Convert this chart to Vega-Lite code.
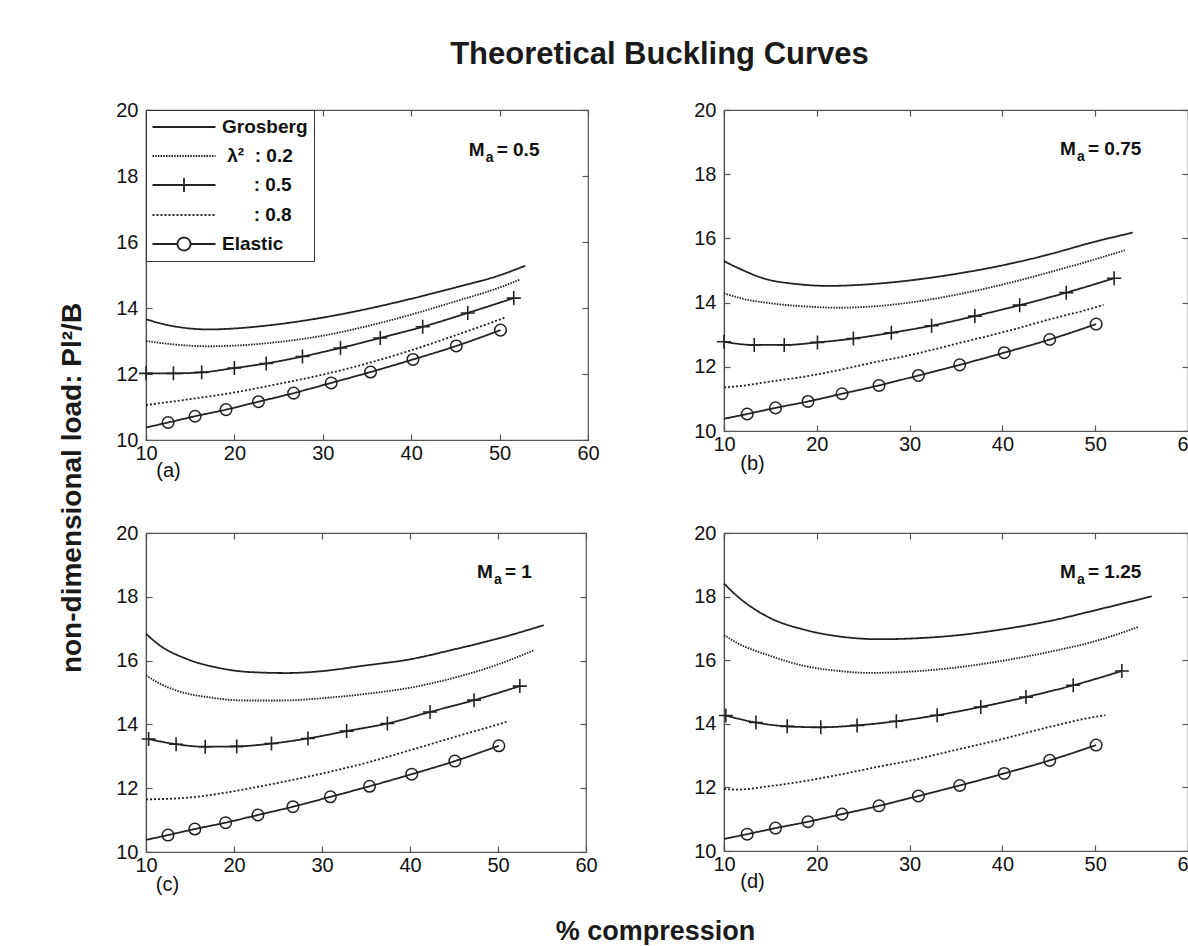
{
  "$schema": "https://vega.github.io/schema/vega-lite/v6.json",
  "background": "white",
  "padding": {"left": 59, "top": 39, "right": 0, "bottom": 0},
  "title": {"text": "Theoretical Buckling Curves", "fontSize": 31, "anchor": "middle", "offset": 28, "dx": 30},
  "config": {
    "font": "Liberation Sans",
    "view": {"stroke": "#555", "strokeWidth": 1.2},
    "title": {"font": "Liberation Sans", "fontWeight": "bold", "color": "#1a1a1a"},
    "axis": {"labelFont": "Liberation Sans", "labelFontSize": 20, "labelColor": "#111", "domainColor": "#555", "domainWidth": 1.2, "tickColor": "#555", "tickWidth": 1.2, "tickSize": -6, "labelPadding": 14, "grid": false, "labelFlush": false, "labelOverlap": false, "titleFont": "Liberation Sans", "titleFontSize": 20, "titleFontWeight": "normal", "titleColor": "#111"},
    "axisX": {"labelPadding": 9},
    "legend": {"orient": "top-left", "offset": 0, "padding": 6, "strokeColor": "#333", "fillColor": "white", "cornerRadius": 0, "symbolSize": 400, "symbolStrokeWidth": 1.8, "symbolStrokeColor": "#222", "symbolFillColor": "transparent", "symbolOffset": 21, "labelOffset": 27, "labelFont": "Liberation Sans", "labelFontSize": 19, "labelFontWeight": "bold", "labelColor": "#111", "rowPadding": 8, "labelLimit": 300}
  },
  "datasets": {
    "a": [
      {"x": 10, "y": 13.66, "series": "Grosberg"}, {"x": 12, "y": 13.51, "series": "Grosberg"}, {"x": 14, "y": 13.41, "series": "Grosberg"}, {"x": 17.2, "y": 13.35, "series": "Grosberg"}, {"x": 20, "y": 13.38, "series": "Grosberg"}, {"x": 25, "y": 13.51, "series": "Grosberg"}, {"x": 30, "y": 13.71, "series": "Grosberg"}, {"x": 35, "y": 13.97, "series": "Grosberg"}, {"x": 40, "y": 14.28, "series": "Grosberg"}, {"x": 45, "y": 14.62, "series": "Grosberg"}, {"x": 50, "y": 14.99, "series": "Grosberg"}, {"x": 52.9, "y": 15.28, "series": "Grosberg"},
      {"x": 10, "y": 13.0, "series": "0.2"}, {"x": 13, "y": 12.9, "series": "0.2"}, {"x": 17, "y": 12.84, "series": "0.2"}, {"x": 20, "y": 12.86, "series": "0.2"}, {"x": 25, "y": 12.97, "series": "0.2"}, {"x": 30, "y": 13.16, "series": "0.2"}, {"x": 35, "y": 13.45, "series": "0.2"}, {"x": 40, "y": 13.8, "series": "0.2"}, {"x": 45, "y": 14.2, "series": "0.2"}, {"x": 50, "y": 14.62, "series": "0.2"}, {"x": 52.3, "y": 14.86, "series": "0.2"},
      {"x": 10, "y": 12.02, "series": "0.5"}, {"x": 13.1, "y": 12.02, "series": "0.5"}, {"x": 16.3, "y": 12.05, "series": "0.5"}, {"x": 20, "y": 12.18, "series": "0.5"}, {"x": 23.6, "y": 12.32, "series": "0.5"}, {"x": 27.7, "y": 12.53, "series": "0.5"}, {"x": 32, "y": 12.79, "series": "0.5"}, {"x": 36.5, "y": 13.09, "series": "0.5"}, {"x": 41.3, "y": 13.43, "series": "0.5"}, {"x": 46.4, "y": 13.85, "series": "0.5"}, {"x": 51.6, "y": 14.3, "series": "0.5"},
      {"x": 10, "y": 11.06, "series": "0.8"}, {"x": 15, "y": 11.24, "series": "0.8"}, {"x": 20, "y": 11.44, "series": "0.8"}, {"x": 25, "y": 11.7, "series": "0.8"}, {"x": 30, "y": 11.98, "series": "0.8"}, {"x": 35, "y": 12.32, "series": "0.8"}, {"x": 40, "y": 12.72, "series": "0.8"}, {"x": 45, "y": 13.17, "series": "0.8"}, {"x": 50, "y": 13.65, "series": "0.8"}, {"x": 50.6, "y": 13.71, "series": "0.8"},
      {"x": 10, "y": 10.38, "series": "Elastic"}, {"x": 12.5, "y": 10.53, "series": "Elastic"}, {"x": 15.55, "y": 10.72, "series": "Elastic"}, {"x": 19.05, "y": 10.92, "series": "Elastic"}, {"x": 22.72, "y": 11.16, "series": "Elastic"}, {"x": 26.7, "y": 11.42, "series": "Elastic"}, {"x": 30.95, "y": 11.73, "series": "Elastic"}, {"x": 35.4, "y": 12.06, "series": "Elastic"}, {"x": 40.2, "y": 12.44, "series": "Elastic"}, {"x": 45.1, "y": 12.85, "series": "Elastic"}, {"x": 50.1, "y": 13.33, "series": "Elastic"}
    ],
    "b": [
      {"x": 10, "y": 15.29, "series": "Grosberg"}, {"x": 11.65, "y": 15.06, "series": "Grosberg"}, {"x": 14.2, "y": 14.76, "series": "Grosberg"}, {"x": 18.1, "y": 14.57, "series": "Grosberg"}, {"x": 21.3, "y": 14.52, "series": "Grosberg"}, {"x": 24.5, "y": 14.55, "series": "Grosberg"}, {"x": 30, "y": 14.69, "series": "Grosberg"}, {"x": 34.9, "y": 14.89, "series": "Grosberg"}, {"x": 40, "y": 15.16, "series": "Grosberg"}, {"x": 45, "y": 15.5, "series": "Grosberg"}, {"x": 50, "y": 15.9, "series": "Grosberg"}, {"x": 54.05, "y": 16.18, "series": "Grosberg"},
      {"x": 10, "y": 14.29, "series": "0.2"}, {"x": 12, "y": 14.12, "series": "0.2"}, {"x": 15, "y": 13.98, "series": "0.2"}, {"x": 18.8, "y": 13.88, "series": "0.2"}, {"x": 22.4, "y": 13.84, "series": "0.2"}, {"x": 26, "y": 13.88, "series": "0.2"}, {"x": 30, "y": 14.0, "series": "0.2"}, {"x": 34.9, "y": 14.24, "series": "0.2"}, {"x": 40, "y": 14.56, "series": "0.2"}, {"x": 45, "y": 14.94, "series": "0.2"}, {"x": 50, "y": 15.35, "series": "0.2"}, {"x": 53.2, "y": 15.63, "series": "0.2"},
      {"x": 10, "y": 12.78, "series": "0.5"}, {"x": 13.26, "y": 12.68, "series": "0.5"}, {"x": 16.49, "y": 12.68, "series": "0.5"}, {"x": 20.07, "y": 12.76, "series": "0.5"}, {"x": 23.94, "y": 12.88, "series": "0.5"}, {"x": 28.03, "y": 13.06, "series": "0.5"}, {"x": 32.37, "y": 13.28, "series": "0.5"}, {"x": 37.03, "y": 13.58, "series": "0.5"}, {"x": 41.86, "y": 13.92, "series": "0.5"}, {"x": 46.88, "y": 14.31, "series": "0.5"}, {"x": 52.04, "y": 14.76, "series": "0.5"},
      {"x": 10, "y": 11.36, "series": "0.8"}, {"x": 11.65, "y": 11.4, "series": "0.8"}, {"x": 15.2, "y": 11.55, "series": "0.8"}, {"x": 18.8, "y": 11.7, "series": "0.8"}, {"x": 22.4, "y": 11.9, "series": "0.8"}, {"x": 26, "y": 12.13, "series": "0.8"}, {"x": 30, "y": 12.36, "series": "0.8"}, {"x": 34.9, "y": 12.71, "series": "0.8"}, {"x": 40, "y": 13.07, "series": "0.8"}, {"x": 45, "y": 13.47, "series": "0.8"}, {"x": 50, "y": 13.85, "series": "0.8"}, {"x": 50.9, "y": 13.93, "series": "0.8"},
      {"x": 10, "y": 10.38, "series": "Elastic"}, {"x": 12.5, "y": 10.53, "series": "Elastic"}, {"x": 15.55, "y": 10.72, "series": "Elastic"}, {"x": 19.05, "y": 10.92, "series": "Elastic"}, {"x": 22.72, "y": 11.16, "series": "Elastic"}, {"x": 26.7, "y": 11.42, "series": "Elastic"}, {"x": 30.95, "y": 11.73, "series": "Elastic"}, {"x": 35.4, "y": 12.06, "series": "Elastic"}, {"x": 40.2, "y": 12.44, "series": "Elastic"}, {"x": 45.1, "y": 12.85, "series": "Elastic"}, {"x": 50.1, "y": 13.33, "series": "Elastic"}
    ],
    "c": [
      {"x": 10, "y": 16.84, "series": "Grosberg"}, {"x": 11.5, "y": 16.49, "series": "Grosberg"}, {"x": 14.55, "y": 16.06, "series": "Grosberg"}, {"x": 18.1, "y": 15.78, "series": "Grosberg"}, {"x": 21.9, "y": 15.64, "series": "Grosberg"}, {"x": 26, "y": 15.61, "series": "Grosberg"}, {"x": 30, "y": 15.67, "series": "Grosberg"}, {"x": 34.7, "y": 15.84, "series": "Grosberg"}, {"x": 40, "y": 16.04, "series": "Grosberg"}, {"x": 45, "y": 16.35, "series": "Grosberg"}, {"x": 50, "y": 16.69, "series": "Grosberg"}, {"x": 55.2, "y": 17.11, "series": "Grosberg"},
      {"x": 10, "y": 15.54, "series": "0.2"}, {"x": 11.35, "y": 15.31, "series": "0.2"}, {"x": 13.6, "y": 15.05, "series": "0.2"}, {"x": 17.4, "y": 14.84, "series": "0.2"}, {"x": 21.1, "y": 14.75, "series": "0.2"}, {"x": 25.6, "y": 14.75, "series": "0.2"}, {"x": 30, "y": 14.82, "series": "0.2"}, {"x": 35.1, "y": 14.96, "series": "0.2"}, {"x": 40, "y": 15.15, "series": "0.2"}, {"x": 45, "y": 15.46, "series": "0.2"}, {"x": 50, "y": 15.88, "series": "0.2"}, {"x": 54.05, "y": 16.32, "series": "0.2"},
      {"x": 10.3, "y": 13.54, "series": "0.5"}, {"x": 13.42, "y": 13.38, "series": "0.5"}, {"x": 16.73, "y": 13.3, "series": "0.5"}, {"x": 20.31, "y": 13.31, "series": "0.5"}, {"x": 24.26, "y": 13.4, "series": "0.5"}, {"x": 28.4, "y": 13.56, "series": "0.5"}, {"x": 32.8, "y": 13.79, "series": "0.5"}, {"x": 37.43, "y": 14.03, "series": "0.5"}, {"x": 42.28, "y": 14.39, "series": "0.5"}, {"x": 47.28, "y": 14.76, "series": "0.5"}, {"x": 52.48, "y": 15.2, "series": "0.5"},
      {"x": 10, "y": 11.65, "series": "0.8"}, {"x": 13.6, "y": 11.68, "series": "0.8"}, {"x": 17.4, "y": 11.79, "series": "0.8"}, {"x": 21.1, "y": 11.96, "series": "0.8"}, {"x": 25.6, "y": 12.2, "series": "0.8"}, {"x": 30, "y": 12.46, "series": "0.8"}, {"x": 35.1, "y": 12.8, "series": "0.8"}, {"x": 40, "y": 13.19, "series": "0.8"}, {"x": 45, "y": 13.6, "series": "0.8"}, {"x": 50, "y": 14.0, "series": "0.8"}, {"x": 51.05, "y": 14.09, "series": "0.8"},
      {"x": 10, "y": 10.38, "series": "Elastic"}, {"x": 12.5, "y": 10.53, "series": "Elastic"}, {"x": 15.55, "y": 10.72, "series": "Elastic"}, {"x": 19.05, "y": 10.92, "series": "Elastic"}, {"x": 22.72, "y": 11.16, "series": "Elastic"}, {"x": 26.7, "y": 11.42, "series": "Elastic"}, {"x": 30.95, "y": 11.73, "series": "Elastic"}, {"x": 35.4, "y": 12.06, "series": "Elastic"}, {"x": 40.2, "y": 12.44, "series": "Elastic"}, {"x": 45.1, "y": 12.85, "series": "Elastic"}, {"x": 50.1, "y": 13.33, "series": "Elastic"}
    ],
    "d": [
      {"x": 10, "y": 18.41, "series": "Grosberg"}, {"x": 11.36, "y": 18.03, "series": "Grosberg"}, {"x": 14.95, "y": 17.33, "series": "Grosberg"}, {"x": 18.5, "y": 16.97, "series": "Grosberg"}, {"x": 22.1, "y": 16.76, "series": "Grosberg"}, {"x": 26.8, "y": 16.66, "series": "Grosberg"}, {"x": 30, "y": 16.68, "series": "Grosberg"}, {"x": 35, "y": 16.78, "series": "Grosberg"}, {"x": 40, "y": 16.97, "series": "Grosberg"}, {"x": 45.05, "y": 17.23, "series": "Grosberg"}, {"x": 50, "y": 17.57, "series": "Grosberg"}, {"x": 56.1, "y": 18.01, "series": "Grosberg"},
      {"x": 10, "y": 16.79, "series": "0.2"}, {"x": 11.36, "y": 16.55, "series": "0.2"}, {"x": 14.95, "y": 16.14, "series": "0.2"}, {"x": 18.5, "y": 15.83, "series": "0.2"}, {"x": 22.1, "y": 15.67, "series": "0.2"}, {"x": 25.7, "y": 15.6, "series": "0.2"}, {"x": 30, "y": 15.64, "series": "0.2"}, {"x": 35, "y": 15.77, "series": "0.2"}, {"x": 40, "y": 15.98, "series": "0.2"}, {"x": 45.05, "y": 16.26, "series": "0.2"}, {"x": 50, "y": 16.6, "series": "0.2"}, {"x": 54.7, "y": 17.05, "series": "0.2"},
      {"x": 10.2, "y": 14.26, "series": "0.5"}, {"x": 13.44, "y": 14.04, "series": "0.5"}, {"x": 16.81, "y": 13.92, "series": "0.5"}, {"x": 20.43, "y": 13.89, "series": "0.5"}, {"x": 24.34, "y": 13.95, "series": "0.5"}, {"x": 28.57, "y": 14.08, "series": "0.5"}, {"x": 32.97, "y": 14.27, "series": "0.5"}, {"x": 37.67, "y": 14.53, "series": "0.5"}, {"x": 42.54, "y": 14.84, "series": "0.5"}, {"x": 47.63, "y": 15.21, "series": "0.5"}, {"x": 52.87, "y": 15.66, "series": "0.5"},
      {"x": 10, "y": 11.95, "series": "0.8"}, {"x": 11.36, "y": 11.93, "series": "0.8"}, {"x": 14.95, "y": 12.04, "series": "0.8"}, {"x": 18.5, "y": 12.19, "series": "0.8"}, {"x": 22.1, "y": 12.38, "series": "0.8"}, {"x": 26.8, "y": 12.66, "series": "0.8"}, {"x": 30, "y": 12.84, "series": "0.8"}, {"x": 35, "y": 13.18, "series": "0.8"}, {"x": 40, "y": 13.52, "series": "0.8"}, {"x": 45.05, "y": 13.9, "series": "0.8"}, {"x": 50, "y": 14.22, "series": "0.8"}, {"x": 51.1, "y": 14.27, "series": "0.8"},
      {"x": 10, "y": 10.38, "series": "Elastic"}, {"x": 12.5, "y": 10.53, "series": "Elastic"}, {"x": 15.55, "y": 10.72, "series": "Elastic"}, {"x": 19.05, "y": 10.92, "series": "Elastic"}, {"x": 22.72, "y": 11.16, "series": "Elastic"}, {"x": 26.7, "y": 11.42, "series": "Elastic"}, {"x": 30.95, "y": 11.73, "series": "Elastic"}, {"x": 35.4, "y": 12.06, "series": "Elastic"}, {"x": 40.2, "y": 12.44, "series": "Elastic"}, {"x": 45.1, "y": 12.85, "series": "Elastic"}, {"x": 50.1, "y": 13.33, "series": "Elastic"}
    ]
  },
  "resolve": {"scale": {"strokeDash": "independent"}, "legend": {"strokeDash": "independent"}},
  "vconcat": [
    {
      "title": {"text": "% compression", "orient": "bottom", "anchor": "middle", "fontSize": 27, "offset": 24, "dx": 26},
      "resolve": {"scale": {"strokeDash": "independent"}, "legend": {"strokeDash": "independent"}},
      "hconcat": [
        {
          "title": {"text": "non-dimensional load: Pl²/B", "orient": "left", "anchor": "middle", "fontSize": 28, "offset": 28, "dx": 9},
          "columns": 2,
          "spacing": {"row": 93, "column": 136},
          "bounds": "flush",
          "resolve": {"scale": {"strokeDash": "independent"}, "legend": {"strokeDash": "independent"}},
          "concat": [
            {
              "width": 442, "height": 330,
              "data": {"name": "a"},
              "resolve": {"axis": {"x": "independent", "y": "independent"}},
              "layer": [
                {
                  "mark": {"type": "line", "interpolate": "monotone", "stroke": "#222", "strokeWidth": 1.8},
                  "encoding": {
                    "x": {"field": "x", "type": "quantitative", "scale": {"domain": [10, 60], "nice": false, "zero": false}, "axis": {"values": [10, 20, 30, 40, 50, 60], "title": "(a)", "titleX": 22, "titleY": 30, "titleAlign": "center", "titleBaseline": "middle"}},
                    "y": {"field": "y", "type": "quantitative", "scale": {"domain": [10, 20], "nice": false, "zero": false}, "axis": {"values": [10, 12, 14, 16, 18, 20], "title": null}},
                    "strokeDash": {"field": "series", "type": "nominal", "scale": {"domain": ["Grosberg", "0.2", "0.5", "0.8", "Elastic"], "range": [[1, 0], [1.5, 1.2], [1, 0], [2, 2], [1, 0]]},
                      "legend": {"title": null,
                        "labelExpr": "datum.value === '0.2' ? '\u2060\u00a0λ²\u00a0\u00a0: 0.2' : datum.value === '0.5' ? '\u2060\u00a0\u00a0\u00a0\u00a0\u00a0\u00a0: 0.5' : datum.value === '0.8' ? '\u2060\u00a0\u00a0\u00a0\u00a0\u00a0\u00a0: 0.8' : datum.label",
                        "encode": {"symbols": {"update": {"shape": {"signal": "datum.value === '0.5' ? 'M-3.15,0H3.15M0,-0.7V0.7' : datum.value === 'Elastic' ? 'M-3.15,0H-0.65A0.65,0.65 0 1,1 0.65,0A0.65,0.65 0 1,1 -0.65,0M0.65,0H3.15' : 'M-3.15,0H3.15'"}, "fill": {"value": "transparent"}, "stroke": {"value": "#222"}}}}}}
                  }
                },
                {
                  "transform": [{"filter": "datum.series === '0.5'"}],
                  "mark": {"type": "point", "shape": "M-1,0H1M0,-1V1", "size": 196, "filled": false, "stroke": "#222", "strokeWidth": 1.6, "opacity": 1},
                  "encoding": {"x": {"field": "x", "type": "quantitative", "axis": null}, "y": {"field": "y", "type": "quantitative", "axis": null}}
                },
                {
                  "transform": [{"filter": "datum.series === 'Elastic' && datum.x > 10"}],
                  "mark": {"type": "point", "shape": "circle", "size": 133, "filled": false, "stroke": "#222", "strokeWidth": 1.5, "opacity": 1},
                  "encoding": {"x": {"field": "x", "type": "quantitative", "axis": null}, "y": {"field": "y", "type": "quantitative", "axis": null}}
                },
                {
                  "data": {"values": [{}]},
                  "mark": {"type": "text", "text": "M", "align": "left", "baseline": "alphabetic", "fontSize": 19, "fontWeight": "bold", "color": "#111"},
                  "encoding": {
                    "x": {"datum": 46.5, "type": "quantitative", "scale": {"domain": [10, 60], "nice": false, "zero": false}, "axis": {"orient": "top", "values": [10, 20, 30, 40, 50, 60], "labels": false, "domain": false, "title": null}},
                    "y": {"datum": 18.6, "type": "quantitative", "scale": {"domain": [10, 20], "nice": false, "zero": false}, "axis": {"orient": "right", "values": [10, 12, 14, 16, 18, 20], "labels": false, "domain": false, "title": null}}
                  }
                },
                {
                  "data": {"values": [{}]},
                  "mark": {"type": "text", "text": "a", "align": "left", "baseline": "alphabetic", "fontSize": 14, "fontWeight": "bold", "color": "#111", "dx": 17, "dy": 6},
                  "encoding": {"x": {"datum": 46.5, "type": "quantitative", "axis": null}, "y": {"datum": 18.6, "type": "quantitative", "axis": null}}
                },
                {
                  "data": {"values": [{}]},
                  "mark": {"type": "text", "text": "= 0.5", "align": "left", "baseline": "alphabetic", "fontSize": 19, "fontWeight": "bold", "color": "#111", "dx": 28},
                  "encoding": {"x": {"datum": 46.5, "type": "quantitative", "axis": null}, "y": {"datum": 18.6, "type": "quantitative", "axis": null}}
                }
              ]
            },
            {
              "width": 464, "height": 321,
              "data": {"name": "b"},
              "resolve": {"axis": {"x": "independent", "y": "independent"}},
              "layer": [
                {
                  "mark": {"type": "line", "interpolate": "monotone", "stroke": "#222", "strokeWidth": 1.8},
                  "encoding": {
                    "x": {"field": "x", "type": "quantitative", "scale": {"domain": [10, 60], "nice": false, "zero": false}, "axis": {"values": [10, 20, 30, 40, 50, 60], "title": "(b)", "titleX": 28, "titleY": 32, "titleAlign": "center", "titleBaseline": "middle"}},
                    "y": {"field": "y", "type": "quantitative", "scale": {"domain": [10, 20], "nice": false, "zero": false}, "axis": {"values": [10, 12, 14, 16, 18, 20], "title": null}},
                    "strokeDash": {"field": "series", "type": "nominal", "scale": {"domain": ["Grosberg", "0.2", "0.5", "0.8", "Elastic"], "range": [[1, 0], [1.5, 1.2], [1, 0], [2, 2], [1, 0]]}, "legend": null}
                  }
                },
                {
                  "transform": [{"filter": "datum.series === '0.5'"}],
                  "mark": {"type": "point", "shape": "M-1,0H1M0,-1V1", "size": 196, "filled": false, "stroke": "#222", "strokeWidth": 1.6, "opacity": 1},
                  "encoding": {"x": {"field": "x", "type": "quantitative", "axis": null}, "y": {"field": "y", "type": "quantitative", "axis": null}}
                },
                {
                  "transform": [{"filter": "datum.series === 'Elastic' && datum.x > 10"}],
                  "mark": {"type": "point", "shape": "circle", "size": 133, "filled": false, "stroke": "#222", "strokeWidth": 1.5, "opacity": 1},
                  "encoding": {"x": {"field": "x", "type": "quantitative", "axis": null}, "y": {"field": "y", "type": "quantitative", "axis": null}}
                },
                {
                  "data": {"values": [{}]},
                  "mark": {"type": "text", "text": "M", "align": "left", "baseline": "alphabetic", "fontSize": 19, "fontWeight": "bold", "color": "#111"},
                  "encoding": {
                    "x": {"datum": 46.2, "type": "quantitative", "scale": {"domain": [10, 60], "nice": false, "zero": false}, "axis": {"orient": "top", "values": [10, 20, 30, 40, 50, 60], "labels": false, "domain": false, "title": null}},
                    "y": {"datum": 18.6, "type": "quantitative", "scale": {"domain": [10, 20], "nice": false, "zero": false}, "axis": {"orient": "right", "values": [10, 12, 14, 16, 18, 20], "labels": false, "domain": false, "title": null}}
                  }
                },
                {
                  "data": {"values": [{}]},
                  "mark": {"type": "text", "text": "a", "align": "left", "baseline": "alphabetic", "fontSize": 14, "fontWeight": "bold", "color": "#111", "dx": 17, "dy": 6},
                  "encoding": {"x": {"datum": 46.2, "type": "quantitative", "axis": null}, "y": {"datum": 18.6, "type": "quantitative", "axis": null}}
                },
                {
                  "data": {"values": [{}]},
                  "mark": {"type": "text", "text": "= 0.75", "align": "left", "baseline": "alphabetic", "fontSize": 19, "fontWeight": "bold", "color": "#111", "dx": 28},
                  "encoding": {"x": {"datum": 46.2, "type": "quantitative", "axis": null}, "y": {"datum": 18.6, "type": "quantitative", "axis": null}}
                }
              ]
            },
            {
              "width": 440, "height": 319,
              "data": {"name": "c"},
              "resolve": {"axis": {"x": "independent", "y": "independent"}},
              "layer": [
                {
                  "mark": {"type": "line", "interpolate": "monotone", "stroke": "#222", "strokeWidth": 1.8},
                  "encoding": {
                    "x": {"field": "x", "type": "quantitative", "scale": {"domain": [10, 60], "nice": false, "zero": false}, "axis": {"values": [10, 20, 30, 40, 50, 60], "title": "(c)", "titleX": 21, "titleY": 32, "titleAlign": "center", "titleBaseline": "middle"}},
                    "y": {"field": "y", "type": "quantitative", "scale": {"domain": [10, 20], "nice": false, "zero": false}, "axis": {"values": [10, 12, 14, 16, 18, 20], "title": null}},
                    "strokeDash": {"field": "series", "type": "nominal", "scale": {"domain": ["Grosberg", "0.2", "0.5", "0.8", "Elastic"], "range": [[1, 0], [1.5, 1.2], [1, 0], [2, 2], [1, 0]]}, "legend": null}
                  }
                },
                {
                  "transform": [{"filter": "datum.series === '0.5'"}],
                  "mark": {"type": "point", "shape": "M-1,0H1M0,-1V1", "size": 196, "filled": false, "stroke": "#222", "strokeWidth": 1.6, "opacity": 1},
                  "encoding": {"x": {"field": "x", "type": "quantitative", "axis": null}, "y": {"field": "y", "type": "quantitative", "axis": null}}
                },
                {
                  "transform": [{"filter": "datum.series === 'Elastic' && datum.x > 10"}],
                  "mark": {"type": "point", "shape": "circle", "size": 133, "filled": false, "stroke": "#222", "strokeWidth": 1.5, "opacity": 1},
                  "encoding": {"x": {"field": "x", "type": "quantitative", "axis": null}, "y": {"field": "y", "type": "quantitative", "axis": null}}
                },
                {
                  "data": {"values": [{}]},
                  "mark": {"type": "text", "text": "M", "align": "left", "baseline": "alphabetic", "fontSize": 19, "fontWeight": "bold", "color": "#111"},
                  "encoding": {
                    "x": {"datum": 47.6, "type": "quantitative", "scale": {"domain": [10, 60], "nice": false, "zero": false}, "axis": {"orient": "top", "values": [10, 20, 30, 40, 50, 60], "labels": false, "domain": false, "title": null}},
                    "y": {"datum": 18.6, "type": "quantitative", "scale": {"domain": [10, 20], "nice": false, "zero": false}, "axis": {"orient": "right", "values": [10, 12, 14, 16, 18, 20], "labels": false, "domain": false, "title": null}}
                  }
                },
                {
                  "data": {"values": [{}]},
                  "mark": {"type": "text", "text": "a", "align": "left", "baseline": "alphabetic", "fontSize": 14, "fontWeight": "bold", "color": "#111", "dx": 17, "dy": 6},
                  "encoding": {"x": {"datum": 47.6, "type": "quantitative", "axis": null}, "y": {"datum": 18.6, "type": "quantitative", "axis": null}}
                },
                {
                  "data": {"values": [{}]},
                  "mark": {"type": "text", "text": "= 1", "align": "left", "baseline": "alphabetic", "fontSize": 19, "fontWeight": "bold", "color": "#111", "dx": 28},
                  "encoding": {"x": {"datum": 47.6, "type": "quantitative", "axis": null}, "y": {"datum": 18.6, "type": "quantitative", "axis": null}}
                }
              ]
            },
            {
              "width": 464, "height": 318,
              "data": {"name": "d"},
              "resolve": {"axis": {"x": "independent", "y": "independent"}},
              "layer": [
                {
                  "mark": {"type": "line", "interpolate": "monotone", "stroke": "#222", "strokeWidth": 1.8},
                  "encoding": {
                    "x": {"field": "x", "type": "quantitative", "scale": {"domain": [10, 60], "nice": false, "zero": false}, "axis": {"values": [10, 20, 30, 40, 50, 60], "title": "(d)", "titleX": 28, "titleY": 30, "titleAlign": "center", "titleBaseline": "middle"}},
                    "y": {"field": "y", "type": "quantitative", "scale": {"domain": [10, 20], "nice": false, "zero": false}, "axis": {"values": [10, 12, 14, 16, 18, 20], "title": null}},
                    "strokeDash": {"field": "series", "type": "nominal", "scale": {"domain": ["Grosberg", "0.2", "0.5", "0.8", "Elastic"], "range": [[1, 0], [1.5, 1.2], [1, 0], [2, 2], [1, 0]]}, "legend": null}
                  }
                },
                {
                  "transform": [{"filter": "datum.series === '0.5'"}],
                  "mark": {"type": "point", "shape": "M-1,0H1M0,-1V1", "size": 196, "filled": false, "stroke": "#222", "strokeWidth": 1.6, "opacity": 1},
                  "encoding": {"x": {"field": "x", "type": "quantitative", "axis": null}, "y": {"field": "y", "type": "quantitative", "axis": null}}
                },
                {
                  "transform": [{"filter": "datum.series === 'Elastic' && datum.x > 10"}],
                  "mark": {"type": "point", "shape": "circle", "size": 133, "filled": false, "stroke": "#222", "strokeWidth": 1.5, "opacity": 1},
                  "encoding": {"x": {"field": "x", "type": "quantitative", "axis": null}, "y": {"field": "y", "type": "quantitative", "axis": null}}
                },
                {
                  "data": {"values": [{}]},
                  "mark": {"type": "text", "text": "M", "align": "left", "baseline": "alphabetic", "fontSize": 19, "fontWeight": "bold", "color": "#111"},
                  "encoding": {
                    "x": {"datum": 46.2, "type": "quantitative", "scale": {"domain": [10, 60], "nice": false, "zero": false}, "axis": {"orient": "top", "values": [10, 20, 30, 40, 50, 60], "labels": false, "domain": false, "title": null}},
                    "y": {"datum": 18.6, "type": "quantitative", "scale": {"domain": [10, 20], "nice": false, "zero": false}, "axis": {"orient": "right", "values": [10, 12, 14, 16, 18, 20], "labels": false, "domain": false, "title": null}}
                  }
                },
                {
                  "data": {"values": [{}]},
                  "mark": {"type": "text", "text": "a", "align": "left", "baseline": "alphabetic", "fontSize": 14, "fontWeight": "bold", "color": "#111", "dx": 17, "dy": 6},
                  "encoding": {"x": {"datum": 46.2, "type": "quantitative", "axis": null}, "y": {"datum": 18.6, "type": "quantitative", "axis": null}}
                },
                {
                  "data": {"values": [{}]},
                  "mark": {"type": "text", "text": "= 1.25", "align": "left", "baseline": "alphabetic", "fontSize": 19, "fontWeight": "bold", "color": "#111", "dx": 28},
                  "encoding": {"x": {"datum": 46.2, "type": "quantitative", "axis": null}, "y": {"datum": 18.6, "type": "quantitative", "axis": null}}
                }
              ]
            }
          ]
        }
      ]
    }
  ]
}
